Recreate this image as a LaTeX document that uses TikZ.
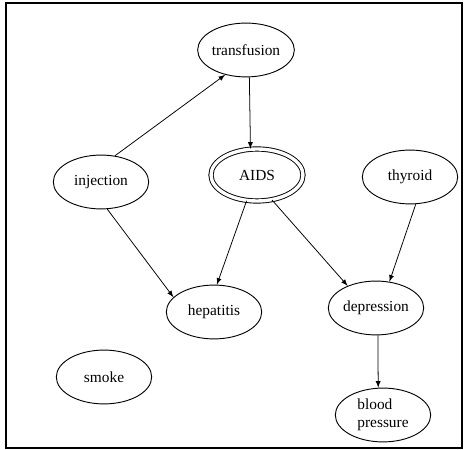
\documentclass[tikz,border=0pt]{standalone}
\usepackage{fontspec}
\setmainfont{Liberation Serif}
\usetikzlibrary{shapes.geometric,arrows}
\tikzset{
  var/.style={draw,ellipse,line width=0.6pt,minimum width=62pt,minimum height=35pt,inner sep=0pt,font=\fontsize{10}{12}\selectfont},
  query/.style={var,double,double distance=2.2pt,minimum width=59.8pt,minimum height=33.8pt},
  link/.style={->,>=latex,line width=0.5pt}
}
\begin{document}
\begin{tikzpicture}[x=0.65pt,y=-0.65pt]
    \useasboundingbox (0,0) rectangle (464,450);

    % draw the frame
    \draw[line width=0.8pt] (6,3) rectangle (462,448);

    % the variables
    \node[var] (transfusion) at (246,50) {transfusion};
    \node[var] (injection) at (101,182) {injection};
    \node[query] (AIDS) at (257,175) {AIDS};
    \node[var] (thyroid) at (410,177) {thyroid};
    \node[var] (hepatitis) at (214,312) {hepatitis};
    \node[var] (depression) at (376,308) {depression};
    \node[var] (smoke) at (104,377) {smoke};
    \node[var,align=left] (blood) at (383,415) {blood\\pressure};

    % draw the links
    \draw[link] (injection.62) -- (transfusion.230);
    \draw[link] (transfusion.277) -- (AIDS.104);
    \draw[link] (injection.283) -- (hepatitis.160);
    \draw[link] (AIDS.248) -- (hepatitis.84);
    \draw[link] (AIDS.301) -- (depression.142);
    \draw[link] (thyroid.282) -- (depression.63);
    \draw[link] (depression.274) -- (blood.100);
\end{tikzpicture}
\end{document}
